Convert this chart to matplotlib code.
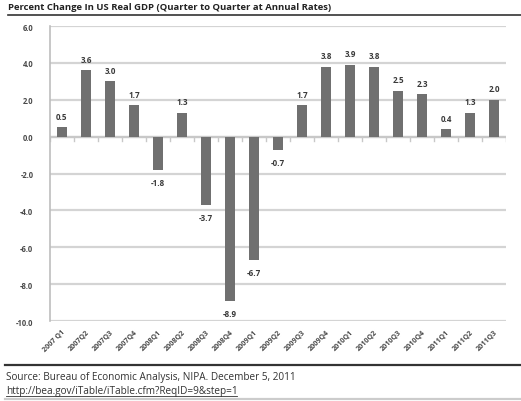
import matplotlib.pyplot as plt
from matplotlib.lines import Line2D

plt.rcParams['font.family'] = ['Open Sans', 'DejaVu Sans']

quarters = ["2007 Q1", "2007Q2", "2007Q3", "2007Q4", "2008Q1", "2008Q2", "2008Q3",
            "2008Q4", "2009Q1", "2009Q2", "2009Q3", "2009Q4", "2010Q1", "2010Q2",
            "2010Q3", "2010Q4", "2011Q1", "2011Q2", "2011Q3"]
gdp_change = [0.5, 3.6, 3.0, 1.7, -1.8, 1.3, -3.7, -8.9, -6.7, -0.7, 1.7,
              3.8, 3.9, 3.8, 2.5, 2.3, 0.4, 1.3, 2.0]
y_ticks = [6.0, 4.0, 2.0, 0.0, -2.0, -4.0, -6.0, -8.0, -10.0]

W, H = 521, 402
fig = plt.figure(figsize=(W / 100, H / 100), dpi=100)
ax = fig.add_axes([50 / W, 1 - 322 / H, 456 / W, 295 / H])

x = list(range(len(quarters)))
ax.bar(x, gdp_change, width=0.4, color='#707070', zorder=3)

for xi, v in zip(x, gdp_change):
    if v >= 0:
        ax.text(xi, v + 0.35, f"{v:.1f}", ha='center', va='bottom', fontsize=5.8,
                fontweight='bold', color='#3a3a3a')
    else:
        ax.text(xi, v - 0.45, f"{v:.1f}", ha='center', va='top', fontsize=5.8,
                fontweight='bold', color='#3a3a3a')

ax.set_xlim(-0.5, len(quarters) - 0.5)
ax.set_ylim(-10, 6)
ax.set_yticks(y_ticks)
ax.set_yticklabels([f"{t:.1f}" for t in y_ticks], fontsize=5.5, fontweight='bold',
                   color='#4a4a4a')
ax.grid(axis='y', color='#d4d4d4', linewidth=1.6, zorder=0)
ax.tick_params(axis='y', length=0, pad=12)

ax.set_xticks(x)
ax.set_xticklabels(quarters, rotation=45, ha='right', rotation_mode='anchor',
                   fontsize=5.2, fontweight='bold', color='#4a4a4a')
ax.tick_params(axis='x', length=0, pad=5)

# category boundary ticks along the zero line
for b in range(len(quarters) + 1):
    ax.plot([b - 0.5, b - 0.5], [0, -0.25], color='#c8c8c8', lw=1, zorder=2)
ax.axhline(0, color='#c8c8c8', lw=1.6, zorder=2)

for s in ['top', 'right', 'bottom']:
    ax.spines[s].set_visible(False)
ax.spines['left'].set_color('#bdbdbd')
ax.spines['left'].set_linewidth(1.2)

fig.text(8 / W, 1 - 8 / H, "Percent Change In US Real GDP (Quarter to Quarter at Annual Rates)",
         fontsize=6.8, fontweight='bold', color='#222222', va='center', ha='left')
fig.add_artist(Line2D([8 / W, 1.0], [1 - 15.5 / H] * 2, color='#333333', lw=1.2))
fig.add_artist(Line2D([5 / W, 1.0], [1 - 366 / H] * 2, color='#333333', lw=1.6))
fig.add_artist(Line2D([5 / W, 1.0], [1 - 400 / H] * 2, color='#cccccc', lw=1.6))

fig.text(6 / W, 1 - 378 / H, "Source: Bureau of Economic Analysis, NIPA. December 5, 2011",
         fontsize=7.2, color='#333333', va='center', ha='left')
fig.text(6 / W, 1 - 392 / H, "http://bea.gov/iTable/iTable.cfm?ReqID=9&step=1",
         fontsize=7.2, color='#333333', va='center', ha='left')
fig.add_artist(Line2D([6 / W, 237 / W], [1 - 397 / H] * 2, color='#333333', lw=0.6))

fig.savefig("out.png", dpi=100)
